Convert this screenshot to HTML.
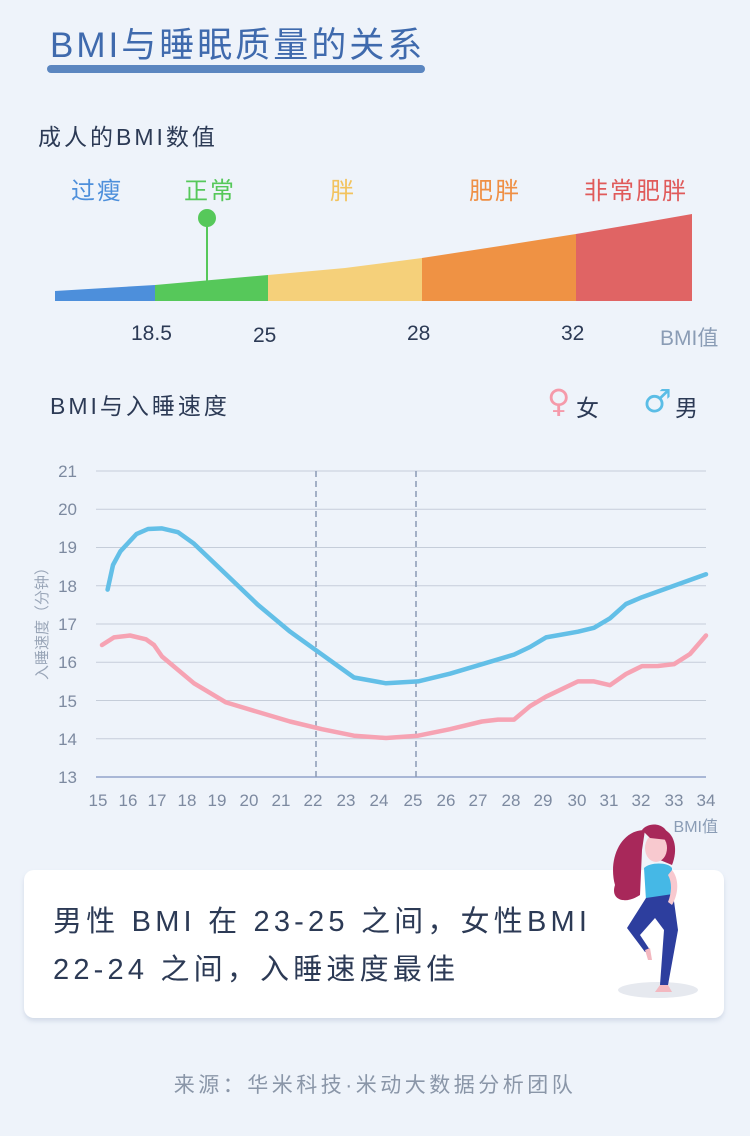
<!DOCTYPE html>
<html><head><meta charset="utf-8"><style>
body{margin:0;background:#eef3fa;}
.wrap{position:relative;width:750px;height:1136px;overflow:hidden;background:#eef3fa;font-family:"Liberation Sans","Noto Sans CJK SC",sans-serif;}
.t{position:absolute;white-space:nowrap;}
</style></head><body><div class="wrap">
<div class="t" style="left:50px;top:17px;font-size:35px;color:#3f6aad;letter-spacing:3px;">BMI与睡眠质量的关系</div>
<div class="t" style="left:47px;top:65px;width:378px;height:8px;border-radius:4px;background:#5b86c0;"></div>
<div class="t" style="left:38px;top:118px;font-size:23px;color:#2c3a55;letter-spacing:3px;">成人的BMI数值</div>
<div class="t" style="left:71px;top:171px;font-size:24px;color:#4d8fdb;letter-spacing:2px;">过瘦</div>
<div class="t" style="left:184px;top:171px;font-size:24px;color:#56c85a;letter-spacing:2px;">正常</div>
<div class="t" style="left:330px;top:171px;font-size:24px;color:#f2c35e;">胖</div>
<div class="t" style="left:469px;top:171px;font-size:24px;color:#ef8f44;letter-spacing:2px;">肥胖</div>
<div class="t" style="left:584px;top:171px;font-size:24px;color:#e05a5a;letter-spacing:2px;">非常肥胖</div>
<div class="t" style="left:131px;top:322px;font-size:21px;color:#2c3a55;">18.5</div>
<div class="t" style="left:253px;top:324px;font-size:21px;color:#2c3a55;">25</div>
<div class="t" style="left:407px;top:322px;font-size:21px;color:#2c3a55;">28</div>
<div class="t" style="left:561px;top:322px;font-size:21px;color:#2c3a55;">32</div>
<div class="t" style="left:660px;top:322px;font-size:21px;color:#8a9cb5;">BMI值</div>
<div class="t" style="left:50px;top:387px;font-size:23px;color:#2c3a55;letter-spacing:3px;">BMI与入睡速度</div>
<div class="t" style="left:547px;top:382px;font-size:32px;color:#f59aaa;font-family:'DejaVu Sans',sans-serif;">♀</div>
<div class="t" style="left:576px;top:389px;font-size:23px;color:#2c3a55;">女</div>
<div class="t" style="left:643px;top:382px;font-size:32px;color:#5bbde6;font-family:'DejaVu Sans',sans-serif;">♂</div>
<div class="t" style="left:675px;top:389px;font-size:23px;color:#2c3a55;">男</div>
<svg class="t" style="left:0;top:0" width="750" height="1136">
<polygon points="55,291 155,285 155,301 55,301" fill="#4d8fdb"/>
<polygon points="155,285 268,275 268,301 155,301" fill="#56c85a"/>
<polygon points="268,275 345,268 422,258 422,301 268,301" fill="#f5d07a"/>
<polygon points="422,258 500,246 576,234 576,301 422,301" fill="#ef9244"/>
<polygon points="576,234 635,224 692,214 692,301 576,301" fill="#e06464"/>
<line x1="207" y1="218" x2="207" y2="300" stroke="#56c85a" stroke-width="2"/>
<circle cx="207" cy="218" r="9" fill="#56c85a"/>
<g stroke="#c5cdd9" stroke-width="1">
<line x1="96" y1="471" x2="706" y2="471"/><line x1="96" y1="509.25" x2="706" y2="509.25"/>
<line x1="96" y1="547.5" x2="706" y2="547.5"/><line x1="96" y1="585.75" x2="706" y2="585.75"/>
<line x1="96" y1="624" x2="706" y2="624"/><line x1="96" y1="662.25" x2="706" y2="662.25"/>
<line x1="96" y1="700.5" x2="706" y2="700.5"/><line x1="96" y1="738.75" x2="706" y2="738.75"/>
</g>
<line x1="96" y1="777" x2="706" y2="777" stroke="#a9b7d6" stroke-width="2"/>
<line x1="316" y1="471" x2="316" y2="777" stroke="#8a9ab5" stroke-width="1.5" stroke-dasharray="6,4"/>
<line x1="416" y1="471" x2="416" y2="777" stroke="#8a9ab5" stroke-width="1.5" stroke-dasharray="6,4"/>
<g font-size="17" fill="#7d8aa0" text-anchor="end" font-family="Liberation Sans,sans-serif">
<text x="77" y="477">21</text><text x="77" y="515">20</text><text x="77" y="553">19</text><text x="77" y="592">18</text>
<text x="77" y="630">17</text><text x="77" y="668">16</text><text x="77" y="707">15</text><text x="77" y="745">14</text><text x="77" y="783">13</text>
</g>
<g font-size="17" fill="#7d8aa0" text-anchor="middle" font-family="Liberation Sans,sans-serif">
<text x="98" y="806">15</text><text x="128" y="806">16</text><text x="157" y="806">17</text><text x="187" y="806">18</text><text x="217" y="806">19</text><text x="249" y="806">20</text><text x="281" y="806">21</text><text x="313" y="806">22</text><text x="346" y="806">23</text><text x="379" y="806">24</text><text x="413" y="806">25</text><text x="446" y="806">26</text><text x="478" y="806">27</text><text x="511" y="806">28</text><text x="543" y="806">29</text><text x="577" y="806">30</text><text x="609" y="806">31</text><text x="641" y="806">32</text><text x="674" y="806">33</text><text x="706" y="806">34</text>
</g>
<text x="718" y="832" font-size="16" fill="#8a9cb5" text-anchor="end" font-family="Liberation Sans,Noto Sans CJK SC,sans-serif">BMI值</text>
<text transform="translate(47,620) rotate(-90)" font-size="15" fill="#9aa6b8" text-anchor="middle" font-family="Liberation Sans,Noto Sans CJK SC,sans-serif">入睡速度（分钟）</text>
<polyline fill="none" stroke="#63bfe7" stroke-width="4.5" stroke-linejoin="round" stroke-linecap="round" points="107.6,589.6 113,565 120.4,551.3 136.4,534.1 148,529 162,528.4 178,532.2 194,543.7 226,574.3 258,604.9 290,631.6 322,654.6 354,677.5 386,683.3 418,681.4 450,673.7 482,664.2 514,654.6 530,647 546,637.4 578,631.7 594,627.8 610,618.3 626,604 642,597.2 674,585.8 706,574.3"/>
<polyline fill="none" stroke="#f6a3b3" stroke-width="4.5" stroke-linejoin="round" stroke-linecap="round" points="102,645 114,637.4 130,635.5 146,639.3 154,645 162,656.5 194,683.3 226,702.4 258,712 290,721.5 322,729.2 354,735.7 386,738 418,735.7 450,729.2 482,721.5 498,719.6 514,719.6 530,706.2 546,696.7 578,681.4 594,681.4 610,685.2 626,674 642,666.1 658,666 674,664.2 690,654 706,635.5"/>
</svg>
<div class="t" style="left:24px;top:870px;width:700px;height:148px;background:#fff;border-radius:10px;box-shadow:0 3px 4px rgba(160,175,200,0.35);"></div>
<div class="t" style="left:53px;top:898px;font-size:29px;color:#2c3a55;line-height:48px;letter-spacing:4.2px;">男性 BMI 在 23-25 之间，女性BMI<br>22-24 之间，入睡速度最佳</div>
<svg class="t" style="left:580px;top:810px" width="170" height="220">
<ellipse cx="78" cy="180" rx="40" ry="8" fill="#e6e9ef"/>
<path d="M65 20 C40 20 28 50 35 75 C30 90 45 95 60 85 L62 40 Z" fill="#a8285a"/>
<path d="M85 20 C95 25 98 40 92 55 L80 50 Z" fill="#a8285a"/>
<ellipse cx="76" cy="38" rx="11" ry="14" fill="#f8c9cf"/>
<path d="M62 20 C70 10 90 14 88 30 L70 28 Z" fill="#a8285a"/>
<path d="M64 58 C70 52 88 52 92 58 L92 85 L66 90 Z" fill="#45b8e6"/>
<path d="M66 88 L93 84 L98 120 L88 175 L80 175 L84 120 L75 108 L60 125 L70 140 L65 142 L47 118 Z" fill="#2d3e9e"/>
<path d="M80 175 L88 175 L92 182 L75 182 Z" fill="#f3b8c0"/>
<path d="M65 140 L70 138 L72 150 L68 150 Z" fill="#f3b8c0"/>
<path d="M92 60 C100 70 98 85 92 95 L88 92 C92 82 92 72 88 65 Z" fill="#f8c9cf"/>
</svg>
<div class="t" style="left:0;width:750px;text-align:center;top:1069px;font-size:21px;color:#8a96a8;letter-spacing:3.5px;">来源：华米科技·米动大数据分析团队</div>
</div></body></html>
